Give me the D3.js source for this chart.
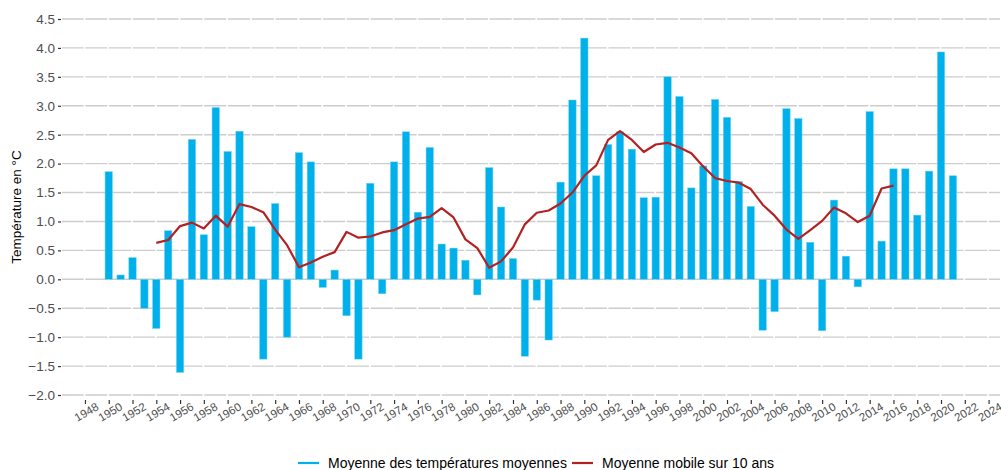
<!DOCTYPE html>
<html>
<head>
<meta charset="utf-8">
<script src="https://cdn.jsdelivr.net/npm/d3@7"></script>
<style>
  html, body { margin: 0; padding: 0; background: #ffffff; }
  svg { display: block; font-family: "Liberation Sans", Arial, Helvetica, sans-serif; }
</style>
</head>
<body>
<svg id="chart" width="1001" height="470"></svg>
<script>
// Annual mean temperature anomalies (°C), one bar per year
const years = d3.range(1950, 2022);
const anomalies = [
  1.86, 0.075, 0.375, -0.50, -0.85, 0.84, -1.61, 2.42, 0.77, 2.97,
  2.21, 2.56, 0.91, -1.38, 1.31, -1.00, 2.19, 2.03, -0.14, 0.16,
  -0.63, -1.38, 1.66, -0.25, 2.03, 2.55, 1.16, 2.28, 0.61, 0.54,
  0.33, -0.27, 1.93, 1.25, 0.36, -1.33, -0.36, -1.05, 1.68, 3.10,
  4.17, 1.79, 2.33, 2.55, 2.25, 1.41, 1.42, 3.50, 3.16, 1.58,
  1.96, 3.11, 2.80, 1.69, 1.26, -0.88, -0.56, 2.95, 2.78, 0.64,
  -0.89, 1.37, 0.40, -0.13, 2.90, 0.66, 1.91, 1.91, 1.11, 1.87,
  3.93, 1.79
];

// 10-year moving average, plotted from 1954 to 2016
const maYears = d3.range(1954, 2017);
const movingAvg = [
  0.63, 0.68, 0.92, 0.98, 0.88, 1.10, 0.91, 1.30, 1.25, 1.16,
  0.86, 0.59, 0.21, 0.29, 0.39, 0.47, 0.82, 0.72, 0.74, 0.81,
  0.85, 0.95, 1.05, 1.08, 1.23, 1.07, 0.69, 0.54, 0.20, 0.31,
  0.55, 0.95, 1.15, 1.19, 1.31, 1.50, 1.79, 1.97, 2.41, 2.56,
  2.41, 2.20, 2.33, 2.36, 2.28, 2.18, 1.95, 1.75, 1.70, 1.67,
  1.56, 1.29, 1.10, 0.86, 0.70, 0.85, 1.01, 1.24, 1.14, 0.99,
  1.10, 1.57, 1.62
];

const yTicks = [-2.0, -1.5, -1.0, -0.5, 0.0, 0.5, 1.0, 1.5, 2.0, 2.5, 3.0, 3.5, 4.0, 4.5];
const xTicks = d3.range(1948, 2025, 2);

const legendLabels = ["Moyenne des températures moyennes", "Moyenne mobile sur 10 ans"];
const barColor = "#00b0eb";
const lineColor = "#b22222";

const svg = d3.select("#chart");
const plotLeft = 62, plotRight = 1000, plotTop = 19, plotBottom = 395;

const x = d3.scaleLinear().domain([1946.07, 2024.96]).range([plotLeft, plotRight]);
const y = d3.scaleLinear().domain([-2, 4.5]).range([plotBottom, plotTop]);
const barW = (x(1) - x(0)) * 0.62;

// horizontal grid
svg.append("g")
  .selectAll("line")
  .data(yTicks)
  .join("line")
  .attr("x1", plotLeft).attr("x2", plotRight)
  .attr("y1", d => y(d)).attr("y2", d => y(d))
  .attr("stroke", "#cdcdcd")
  .attr("stroke-width", 1.4);

// thin white separators at the labelled years
svg.append("g")
  .selectAll("line")
  .data(xTicks)
  .join("line")
  .attr("x1", d => x(d) - 0.5).attr("x2", d => x(d) - 0.5)
  .attr("y1", plotTop - 2).attr("y2", plotBottom + 2)
  .attr("stroke", "#ffffff")
  .attr("stroke-width", 1.6);

// bars
svg.append("g")
  .selectAll("rect")
  .data(years.map((yr, i) => ({ yr, v: anomalies[i] })))
  .join("rect")
  .attr("x", d => x(d.yr) - barW / 2)
  .attr("width", barW)
  .attr("y", d => y(Math.max(0, d.v)))
  .attr("height", d => Math.abs(y(d.v) - y(0)))
  .attr("fill", barColor)
  .attr("stroke", "#6fd3f5")
  .attr("stroke-width", 0.5);

// moving average
const line = d3.line().x(d => x(d.yr)).y(d => y(d.v));
svg.append("path")
  .datum(maYears.map((yr, i) => ({ yr, v: movingAvg[i] })))
  .attr("d", line)
  .attr("fill", "none")
  .attr("stroke", lineColor)
  .attr("stroke-width", 2.2)
  .attr("stroke-linejoin", "round");

// y axis
const fmt = d => (d < 0 ? "\u2212" : "") + Math.abs(d).toFixed(1);
const yAxis = svg.append("g")
  .attr("transform", `translate(${plotLeft - 1},0)`)
  .call(d3.axisLeft(y).tickValues(yTicks).tickFormat(fmt).tickSize(3).tickPadding(3));
yAxis.select(".domain").remove();
yAxis.selectAll(".tick line").attr("stroke", "#333333").attr("stroke-width", 1.2);
yAxis.selectAll(".tick text")
  .attr("fill", "#4d4d4d")
  .style("font-size", "13.5px")
  .style("font-family", "'Liberation Sans', Arial, sans-serif");

// x axis
const xAxis = svg.append("g")
  .attr("transform", `translate(0,${plotBottom + 5})`)
  .call(d3.axisBottom(x).tickValues(xTicks).tickFormat(d3.format("d")).tickSize(4).tickPadding(0));
xAxis.select(".domain").remove();
xAxis.selectAll(".tick line").attr("stroke", "#333333").attr("stroke-width", 1.2);
xAxis.selectAll(".tick text")
  .attr("fill", "#4d4d4d")
  .attr("text-anchor", "middle")
  .attr("dy", null)
  .attr("y", null)
  .attr("transform", "translate(3,15.5) rotate(-30)")
  .style("font-size", "11.5px")
  .style("font-family", "'Liberation Sans', Arial, sans-serif");

// y axis title
svg.append("text")
  .attr("transform", `translate(21,${(plotTop + plotBottom) / 2}) rotate(-90)`)
  .attr("text-anchor", "middle")
  .style("font-size", "13.5px")
  .attr("fill", "#000000")
  .text("Température en °C");

// legend
const legend = svg.append("g");
const items = [
  { label: legendLabels[0], color: barColor, x0: 298 },
  { label: legendLabels[1], color: lineColor, x0: 572 }
];
items.forEach(it => {
  legend.append("line")
    .attr("x1", it.x0).attr("x2", it.x0 + 21)
    .attr("y1", 463).attr("y2", 463)
    .attr("stroke", it.color)
    .attr("stroke-width", 2.2);
  legend.append("text")
    .attr("x", it.x0 + 30)
    .attr("y", 468)
    .style("font-size", "14px")
    .attr("fill", "#000000")
    .text(it.label);
});
</script>
</body>
</html>
